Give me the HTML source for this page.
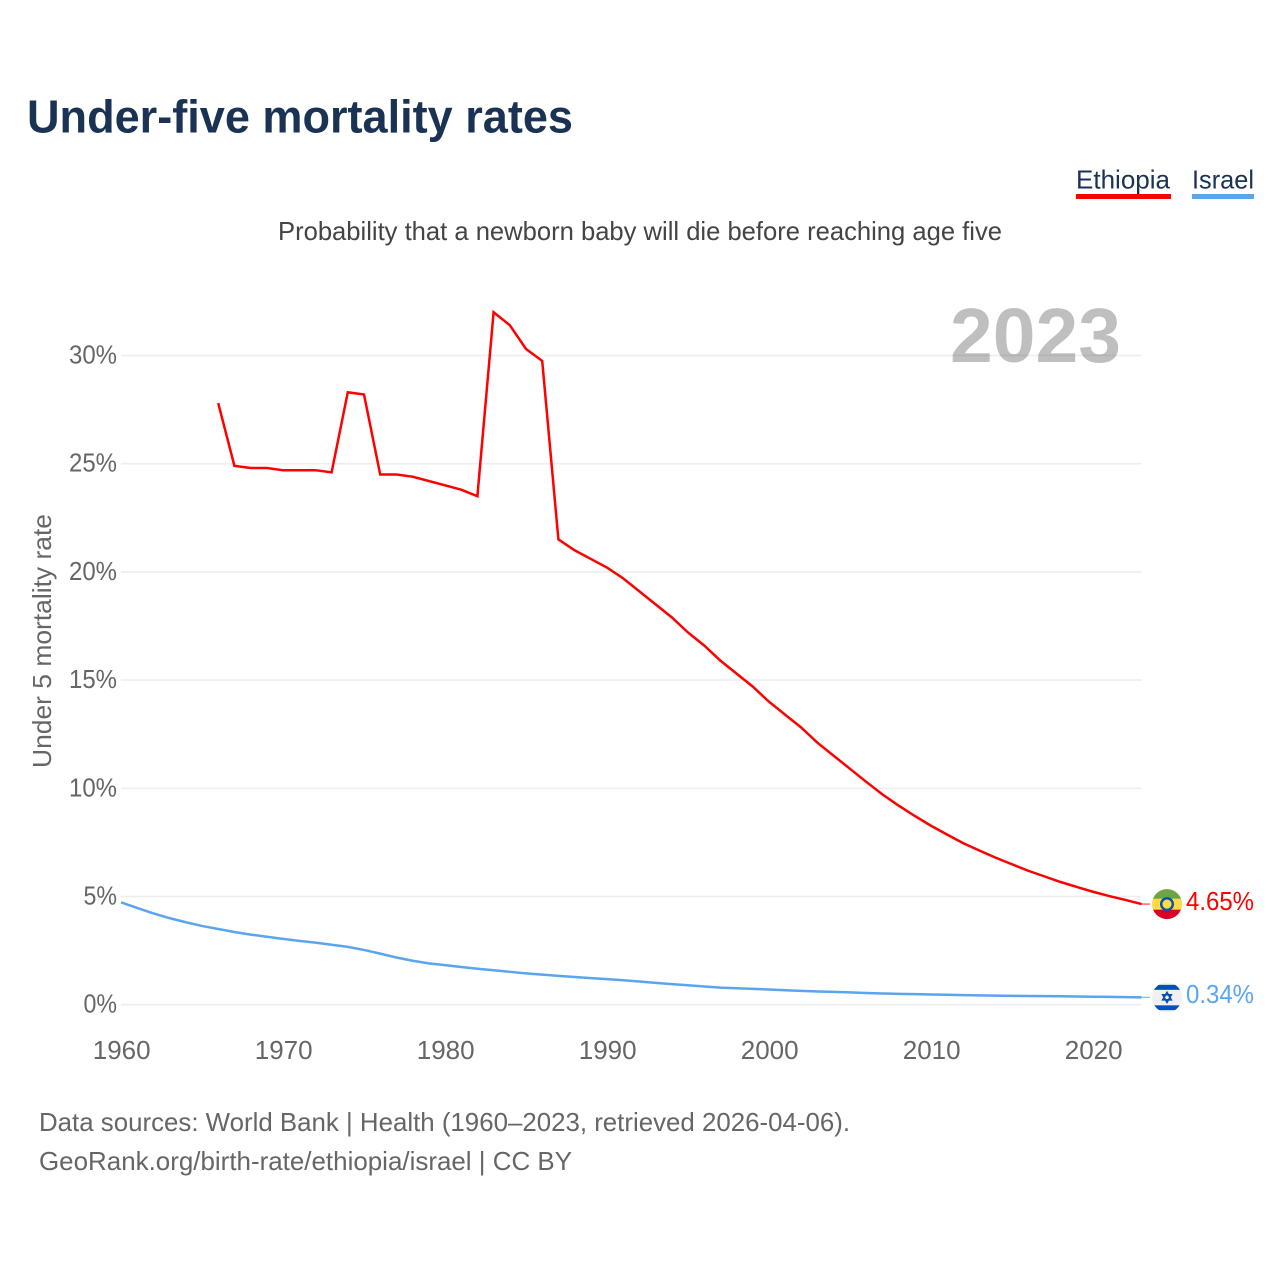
<!DOCTYPE html>
<html lang="en">
<head>
<meta charset="utf-8">
<title>Under-five mortality rates</title>
<style>
html,body{margin:0;padding:0;background:#fff;}
svg{display:block;font-family:"Liberation Sans",sans-serif;}
</style>
</head>
<body>
<svg id="chart" xmlns="http://www.w3.org/2000/svg" width="1280" height="1280" viewBox="0 0 1280 1280">
  <defs>
    <clipPath id="flag-clip"><circle cx="0" cy="0" r="15"></circle></clipPath>
  </defs>
  <rect x="0" y="0" width="1280" height="1280" fill="#ffffff"></rect>
  <text x="27" y="132.5" font-size="46" font-weight="700" fill="#1a3354" textLength="546" lengthAdjust="spacingAndGlyphs">Under-five mortality rates</text>
  <text x="278" y="240" font-size="26" fill="#444444" textLength="724" lengthAdjust="spacingAndGlyphs">Probability that a newborn baby will die before reaching age five</text>
  <g>
    <g>
      <text x="1076" y="188.5" font-size="26" fill="#1a3354" textLength="94" lengthAdjust="spacingAndGlyphs">Ethiopia</text>
      <rect x="1076" y="194" width="95" height="5" fill="#ff0000"></rect>
    </g>
    <g>
      <text x="1192" y="188.5" font-size="26" fill="#1a3354" textLength="62" lengthAdjust="spacingAndGlyphs">Israel</text>
      <rect x="1192" y="194" width="62" height="5" fill="#5aa5ee"></rect>
    </g>
  </g>
  <g id="grid"></g>
  <g id="y-ticks"></g>
  <g id="x-ticks"></g>
  <text transform="translate(51,768) rotate(-90)" x="0" y="0" font-size="26" fill="#666666" textLength="254" lengthAdjust="spacingAndGlyphs">Under 5 mortality rate</text>
  <text x="950" y="362" font-size="77" font-weight="700" fill="#000000" fill-opacity="0.25" textLength="171" lengthAdjust="spacingAndGlyphs">2023</text>
  <g id="series"></g>
  <g id="flag-ethiopia">
    <g clip-path="url(#flag-clip)">
      <rect x="-15" y="-15" width="30" height="30" fill="#ffda44"></rect>
      <rect x="-15" y="-15" width="30" height="9.6" fill="#6da544"></rect>
      <rect x="-15" y="5.6" width="30" height="10" fill="#d80027"></rect>
      <circle cx="0" cy="0" r="7" fill="#0052b4"></circle>
      <circle cx="0" cy="0" r="4.6" fill="#ffda44"></circle>
    </g>
  </g>
  <g id="flag-israel">
    <g clip-path="url(#flag-clip)">
      <rect x="-15" y="-15" width="30" height="30" fill="#f0f0f0"></rect>
      <rect x="-15" y="-12.5" width="30" height="5" fill="#0052b4"></rect>
      <rect x="-15" y="8" width="30" height="4.8" fill="#0052b4"></rect>
      <polygon points="0,-5 4.3,2.5 -4.3,2.5" fill="none" stroke="#0052b4" stroke-width="1.6"></polygon>
      <polygon points="0,5 4.3,-2.5 -4.3,-2.5" fill="none" stroke="#0052b4" stroke-width="1.6"></polygon>
    </g>
  </g>
  <g id="end-labels"></g>
  <g>
    <text x="39" y="1131" font-size="26" fill="#666666" textLength="811" lengthAdjust="spacingAndGlyphs">Data sources: World Bank | Health (1960–2023, retrieved 2026-04-06).</text>
    <text x="39" y="1170" font-size="26" fill="#666666" textLength="533" lengthAdjust="spacingAndGlyphs">GeoRank.org/birth-rate/ethiopia/israel | CC BY</text>
  </g>
</svg>
<script>
const yTicks = [0, 5, 10, 15, 20, 25, 30];
const xTicks = [1960, 1970, 1980, 1990, 2000, 2010, 2020];
const firstYear = 1960;
const lastYear = 2023;
const ethiopiaStartYear = 1966;
const ethiopiaValues = [27.8, 24.9, 24.8, 24.8, 24.7, 24.7, 24.7, 24.6, 28.3, 28.2, 24.5, 24.5, 24.4, 24.2, 24.0, 23.8, 23.5, 32.0, 31.4, 30.3, 29.75, 21.5, 21.0, 20.6, 20.2, 19.7, 19.1, 18.5, 17.9, 17.2, 16.6, 15.9, 15.3, 14.7, 14.0, 13.4, 12.8, 12.1, 11.5, 10.9, 10.3, 9.72, 9.2, 8.72, 8.27, 7.86, 7.46, 7.12, 6.79, 6.49, 6.19, 5.93, 5.67, 5.44, 5.22, 5.02, 4.84, 4.65];
const israelStartYear = 1960;
const israelValues = [4.73, 4.47, 4.22, 4.0, 3.81, 3.64, 3.5, 3.36, 3.24, 3.14, 3.04, 2.95, 2.87, 2.77, 2.67, 2.53, 2.36, 2.18, 2.03, 1.91, 1.83, 1.74, 1.66, 1.59, 1.52, 1.45, 1.39, 1.33, 1.28, 1.23, 1.18, 1.13, 1.07, 1.01, 0.95, 0.9, 0.84, 0.79, 0.76, 0.73, 0.7, 0.67, 0.64, 0.61, 0.59, 0.57, 0.54, 0.52, 0.5, 0.49, 0.47, 0.46, 0.44, 0.43, 0.42, 0.41, 0.4, 0.395, 0.39, 0.38, 0.37, 0.36, 0.35, 0.34];

const NS = 'http://www.w3.org/2000/svg';
function xScale(year) { return 121 + (year - 1960) * 16.2; }
function yScale(pct) { return 1004.7 - pct * 21.64; }
function make(tag, attrs, parent) {
  const el = document.createElementNS(NS, tag);
  for (const k in attrs) el.setAttribute(k, attrs[k]);
  parent.appendChild(el);
  return el;
}
function pathFor(values, startYear) {
  return values.map((v, i) => (i ? 'L' : 'M') + xScale(startYear + i).toFixed(2) + ' ' + yScale(v).toFixed(2)).join(' ');
}

const gridG = document.getElementById('grid');
const yG = document.getElementById('y-ticks');
yTicks.forEach(t => {
  const line = make('line', { x1: xScale(firstYear), x2: xScale(lastYear), y1: yScale(t), y2: yScale(t), stroke: '#eeeeee', 'stroke-width': 1.6 }, gridG);
  
  
  const label = t + '%';
  const txt = make('text', { x: 117, y: yScale(t) + 8, 'font-size': 26, fill: '#666666', 'text-anchor': 'end', textLength: label.length * 14.5 + 4.5, lengthAdjust: 'spacingAndGlyphs' }, yG);
  
  
  txt.textContent = label;
});

const xG = document.getElementById('x-ticks');
xTicks.forEach(t => {
  const txt = make('text', { x: xScale(t) + 0.7, y: 1059, 'font-size': 26, fill: '#666666', 'text-anchor': 'middle' }, xG);
  
  
  txt.textContent = t;
});

const seriesG = document.getElementById('series');
const endG = document.getElementById('end-labels');
function drawSeries(values, startYear, color, lineName, labelName, flagId) {
  const path = make('path', { d: pathFor(values, startYear), fill: 'none', stroke: color, 'stroke-width': 2.5, 'stroke-linejoin': 'miter' }, seriesG);
  
  
  const last = values[values.length - 1];
  const endYear = startYear + values.length - 1;
  const yEnd = yScale(last);
  const lead = make('line', { x1: xScale(endYear), x2: 1150, y1: yEnd, y2: yEnd, stroke: color, 'stroke-width': 1.2, opacity: 0.75 }, seriesG);
  
  
  document.getElementById(flagId).setAttribute('transform', 'translate(1167,' + yEnd.toFixed(2) + ')');
  const txt = make('text', { x: 1186, y: yEnd + 5.8, 'font-size': 26, fill: color, textLength: 68, lengthAdjust: 'spacingAndGlyphs' }, endG);
  
  
  txt.textContent = last.toFixed(2) + '%';
}
drawSeries(ethiopiaValues, ethiopiaStartYear, '#ff0000', 'ethiopia-line', 'ethiopia-end-value', 'flag-ethiopia');
drawSeries(israelValues, israelStartYear, '#5aa5ee', 'israel-line', 'israel-end-value', 'flag-israel');
</script>
</body>
</html>
